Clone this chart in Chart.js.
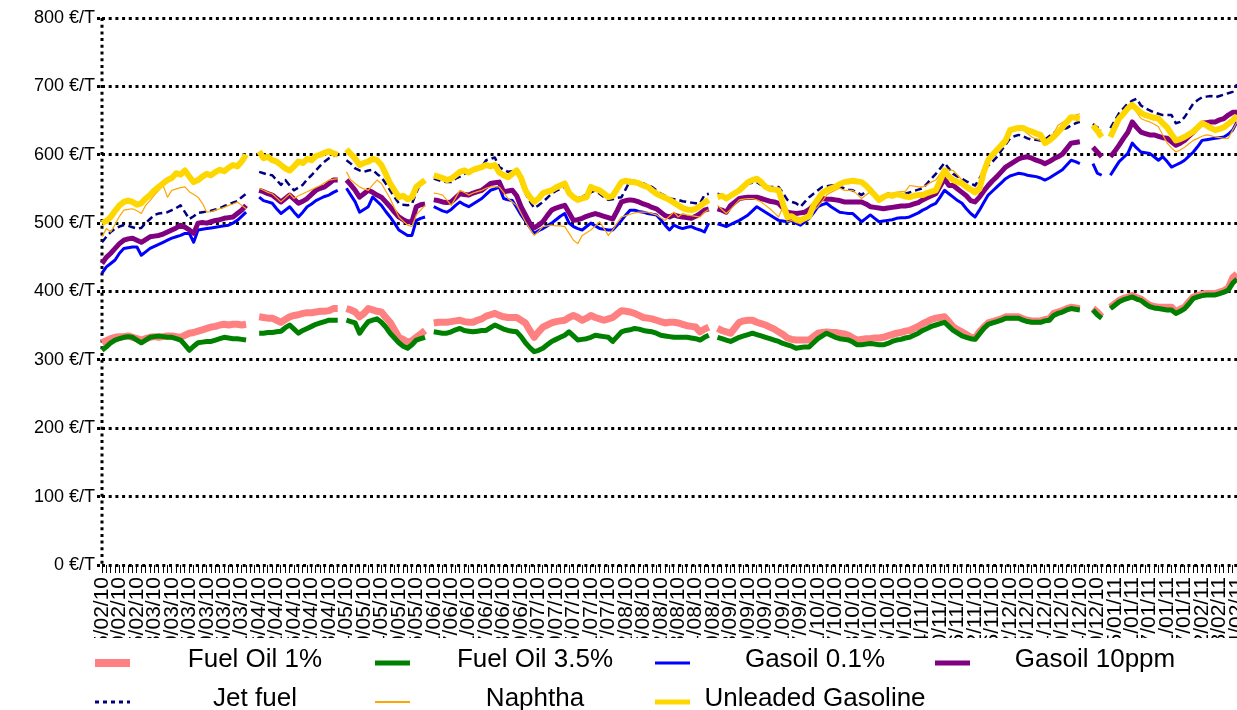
<!DOCTYPE html>
<html>
<head>
<meta charset="utf-8">
<title>Prix produits pétroliers</title>
<script src="https://cdn.jsdelivr.net/npm/chart.js@4.4.1/dist/chart.umd.min.js"></script>
<style>
  html, body { margin: 0; padding: 0; background: #fff; }
  #wrap { width: 1237px; height: 710px; }
</style>
</head>
<body>
<div id="wrap"><canvas id="prices"></canvas></div>
<script>
// business days, 15/02/2010 -> 14/02/2011 (bank holidays are kept as empty points)
const dates = [];
const day = new Date(2010, 1, 15);
while (dates.length < 261) {
    const wd = day.getDay();
    if (wd !== 0 && wd !== 6) {
        const dd = String(day.getDate()).padStart(2, '0');
        const mm = String(day.getMonth() + 1).padStart(2, '0');
        const yy = String(day.getFullYear()).slice(2);
        dates.push(`${dd}/${mm}/${yy}`);
    }
    day.setDate(day.getDate() + 1);
}

const yTicks = [0, 100, 200, 300, 400, 500, 600, 700, 800];

const seriesNames = ['Fuel Oil 1%', 'Fuel Oil 3.5%', 'Gasoil 0.1%', 'Gasoil 10ppm', 'Jet fuel', 'Naphtha', 'Unleaded Gasoline'];

const fuelOil1 = [
    325, 328, 331, 333, 334, 334, 335, 333, 331, 329,
    331, 333, 334, 333, 334, 335, 335, 334, 333, 336,
    339, 340, 342, 344, 346, 348, 349, 351, 352, 351,
    352, 352, 351, 352, null, null, 363, 362, 361, 361,
    358, 355, 359, 363, 365, 366, 368, 369, 369, 370,
    371, 371, 372, 375, 375, null, 375, 373, 370, 363,
    368, 375, 373, 371, 370, 362, 355, 344, 333, 330,
    326, 328, 333, 338, 343, null, 354, 355, 355, 355,
    356, 357, 358, 356, 355, 355, 358, 360, 364, 366,
    368, 365, 363, 362, 362, 362, 358, 354, 343, 333,
    341, 348, 351, 354, 356, 357, 358, 362, 365, 362,
    358, 361, 365, 362, 360, 358, 360, 362, 367, 372,
    371, 370, 368, 365, 362, 361, 360, 358, 356, 354,
    355, 355, 354, 352, 350, 349, 348, 341, 345, 348,
    null, 346, 343, 341, 339, 347, 355, 357, 358, 358,
    355, 353, 351, 348, 345, 341, 337, 332, 330, 329,
    329, 329, 329, 334, 339, 340, 341, 340, 340, 339,
    338, 336, 332, 329, 330, 331, 331, 332, 332, 333,
    335, 337, 339, 340, 342, 343, 346, 349, 353, 356,
    359, 361, 362, 363, 356, 348, 344, 341, 337, 333,
    332, 341, 348, 354, 356, 358, 360, 363, 363, 363,
    363, 360, 358, 357, 357, 357, 359, 360, 368, 370,
    372, 375, 377, 376, 375, null, null, 375, 370, 363,
    null, 377, 382, 387, 390, 392, 394, 391, 389, 384,
    380, 378, 377, 377, 377, 377, 370, 374, 377, 385,
    392, 394, 396, 397, 397, 397, 399, 401, 405, 420,
    426
];

const fuelOil35 = [
    314, 319, 325, 329, 331, 333, 334, 333, 329, 325,
    329, 333, 334, 335, 334, 333, 333, 331, 329, 322,
    314, 320, 325, 326, 327, 327, 329, 331, 333, 332,
    331, 331, 330, 329, null, null, 339, 339, 340, 340,
    341, 342, 347, 351, 345, 339, 343, 346, 349, 352,
    354, 356, 358, 358, 358, null, 358, 356, 354, 339,
    348, 356, 358, 360, 355, 348, 339, 332, 325, 320,
    317, 322, 329, 331, 333, null, 341, 340, 339, 339,
    341, 344, 346, 343, 342, 341, 342, 343, 343, 347,
    351, 348, 345, 343, 342, 341, 334, 325, 318, 312,
    314, 317, 322, 327, 330, 333, 336, 341, 335, 329,
    330, 331, 333, 336, 335, 334, 333, 327, 334, 341,
    343, 344, 346, 345, 343, 342, 341, 339, 336, 335,
    334, 333, 333, 333, 333, 332, 331, 329, 333, 336,
    null, 333, 331, 329, 327, 330, 333, 335, 337, 339,
    337, 335, 333, 331, 329, 327, 324, 322, 320, 317,
    318, 319, 319, 325, 331, 335, 339, 336, 333, 331,
    330, 329, 326, 322, 322, 323, 324, 323, 322, 322,
    324, 327, 329, 330, 332, 333, 336, 339, 343, 346,
    349, 351, 353, 355, 349, 343, 339, 335, 333, 331,
    330, 338, 346, 352, 354, 356, 358, 361, 361, 361,
    361, 358, 356, 355, 355, 355, 357, 358, 365, 368,
    370, 373, 375, 374, 373, null, null, 373, 366, 361,
    null, 375, 380, 385, 388, 390, 392, 389, 387, 382,
    378, 376, 375, 374, 373, 373, 368, 371, 375, 382,
    390, 392, 394, 395, 395, 395, 397, 399, 402, 412,
    418
];

const gasoil01 = [
    427, 436, 441, 446, 456, 463, 464, 465, 465, 453,
    458, 463, 466, 469, 472, 475, 478, 480, 482, 485,
    485, 472, 490, 491, 492, 493, 494, 495, 496, 497,
    500, 504, 510, 516, null, null, 538, 533, 531, 529,
    521, 514, 519, 524, 516, 509, 516, 524, 528, 533,
    536, 539, 541, 545, 548, null, 551, 541, 531, 516,
    520, 524, 538, 532, 526, 517, 509, 500, 490, 486,
    482, 482, 504, 507, 509, null, 524, 521, 518, 516,
    520, 526, 531, 527, 524, 528, 532, 536, 542, 548,
    550, 553, 536, 534, 533, 523, 512, 503, 494, 485,
    489, 492, 496, 500, 505, 510, 514, 500, 495, 492,
    490, 495, 500, 496, 492, 491, 490, 490, 497, 504,
    512, 519, 519, 517, 516, 514, 513, 512, 505, 497,
    490, 497, 494, 492, 494, 495, 492, 490, 487, 500,
    null, 499, 497, 495, 498, 501, 504, 508, 512, 518,
    524, 520, 516, 512, 508, 504, 503, 502, 504, 500,
    497, 502, 507, 515, 524, 527, 529, 524, 520, 516,
    515, 514, 514, 508, 502, 507, 512, 507, 502, 503,
    504, 505, 507, 508, 508, 509, 512, 515, 519, 522,
    526, 529, 538, 548, 543, 538, 533, 529, 521, 514,
    509, 519, 530, 541, 547, 553, 559, 565, 569, 571,
    573, 572, 570, 569, 568, 566, 563, 566, 570, 574,
    578, 585, 592, 590, 587, null, null, 587, 573, 570,
    null, 570, 580, 590, 596, 602, 617, 610, 604, 603,
    602, 597, 592, 597, 590, 582, 585, 588, 592, 598,
    604, 612, 621, 622, 623, 624, 625, 626, 630, 636,
    648
];

const gasoil10ppm = [
    441, 450, 456, 463, 470, 475, 477, 478, 475, 472,
    476, 480, 481, 482, 484, 487, 490, 493, 497, 494,
    490, 485, 500, 501, 500, 502, 504, 505, 507, 508,
    509, 514, 519, 526, null, null, 548, 546, 543, 541,
    536, 531, 536, 541, 535, 529, 532, 536, 542, 548,
    551, 553, 558, 563, 563, null, 563, 556, 548, 538,
    543, 548, 545, 541, 538, 531, 524, 516, 509, 505,
    502, 502, 524, 527, 528, null, 534, 533, 531, 530,
    531, 537, 543, 542, 541, 544, 546, 548, 553, 558,
    559, 560, 546, 547, 548, 540, 524, 512, 500, 493,
    497, 502, 511, 519, 522, 524, 526, 515, 504, 505,
    507, 510, 512, 514, 512, 510, 508, 506, 518, 531,
    533, 534, 533, 531, 528, 526, 523, 521, 516, 511,
    509, 512, 510, 509, 508, 507, 510, 514, 519, 521,
    null, 521, 519, 516, 526, 531, 536, 537, 538, 538,
    538, 536, 534, 532, 531, 529, 522, 516, 515, 514,
    515, 516, 520, 526, 531, 536, 535, 535, 534, 533,
    531, 531, 531, 531, 531, 528, 524, 523, 522, 521,
    522, 523, 524, 525, 525, 526, 528, 530, 534, 537,
    540, 543, 554, 565, 555, 555, 550, 545, 540, 533,
    531, 538, 547, 555, 562, 568, 575, 582, 586, 590,
    594, 596, 597, 595, 592, 590, 587, 590, 594, 597,
    601, 609, 617, 618, 619, null, null, 611, 604, 597,
    null, 597, 605, 614, 624, 633, 648, 640, 633, 631,
    629, 629, 627, 625, 624, 619, 614, 617, 621, 627,
    633, 640, 646, 647, 648, 648, 651, 653, 658, 662,
    662
];

const jetFuel = [
    472, 480, 487, 492, 495, 497, 496, 494, 492, 493,
    500, 506, 512, 514, 515, 516, 519, 522, 526, 516,
    506, 510, 515, 516, 517, 518, 520, 522, 525, 527,
    530, 532, 538, 543, null, null, 575, 573, 571, 570,
    563, 556, 563, 555, 548, 552, 556, 564, 570, 577,
    584, 590, 595, 598, 600, null, 592, 587, 580, 577,
    575, 577, 578, 572, 567, 558, 548, 538, 529, 527,
    526, 528, 545, 558, 560, null, 565, 563, 561, 560,
    560, 565, 568, 572, 575, 578, 580, 582, 592, 594,
    596, 582, 578, 575, 576, 577, 560, 544, 532, 522,
    526, 531, 537, 543, 547, 550, 553, 545, 536, 537,
    538, 542, 545, 548, 543, 538, 534, 535, 537, 538,
    550, 563, 561, 559, 558, 555, 553, 548, 543, 540,
    536, 535, 534, 532, 531, 530, 529, 529, 541, 543,
    null, 543, 541, 538, 542, 545, 548, 553, 558, 559,
    560, 556, 553, 553, 553, 553, 544, 534, 531, 529,
    524, 531, 538, 543, 548, 553, 554, 555, 555, 553,
    551, 549, 548, 545, 541, 546, 551, 544, 536, 540,
    543, 543, 543, 543, 543, 545, 547, 549, 551, 558,
    565, 572, 580, 588, 580, 572, 568, 565, 561, 558,
    555, 565, 577, 584, 590, 597, 606, 615, 624, 627,
    629, 627, 624, 622, 622, 621, 622, 627, 632, 635,
    637, 639, 643, 646, 648, null, null, 645, 640, 636,
    null, 639, 650, 661, 668, 675, 679, 682, 672, 668,
    665, 662, 660, 658, 658, 658, 646, 648, 655, 665,
    675, 680, 684, 685, 686, 684, 686, 688, 690, 692,
    703
];

const naphtha = [
    480, 492, 487, 498, 510, 519, 520, 521, 518, 514,
    526, 533, 541, 548, 555, 538, 548, 550, 552, 553,
    546, 542, 538, 529, 516, 517, 519, 521, 523, 526,
    528, 531, 526, 521, null, null, 551, 548, 545, 543,
    537, 531, 537, 543, 536, 540, 543, 546, 549, 552,
    555, 559, 563, 564, 565, null, 575, 563, 558, 553,
    550, 548, 556, 563, 558, 547, 536, 522, 509, 503,
    497, 495, 512, 519, 526, null, 544, 543, 541, 534,
    526, 537, 548, 545, 541, 544, 546, 548, 551, 553,
    553, 553, 545, 536, 531, 526, 514, 502, 492, 482,
    488, 495, 496, 497, 496, 496, 495, 485, 475, 470,
    482, 486, 490, 496, 502, 492, 482, 490, 500, 509,
    511, 513, 515, 516, 516, 516, 514, 512, 508, 504,
    510, 516, 509, 514, 512, 511, 510, 509, 516, 520,
    null, 526, 520, 514, 520, 527, 534, 535, 536, 536,
    534, 531, 526, 521, 515, 509, 524, 502, 504, 501,
    499, 505, 511, 518, 524, 532, 541, 545, 548, 551,
    548, 548, 548, 542, 536, 541, 546, 542, 538, 541,
    543, 544, 545, 546, 546, 555, 554, 553, 553, 556,
    560, 563, 572, 580, 578, 577, 570, 563, 556, 550,
    551, 553, 572, 592, 600, 607, 617, 626, 632, 639,
    638, 636, 631, 626, 623, 621, 619, 625, 631, 643,
    647, 651, 655, 658, 660, null, null, 641, 636, 636,
    null, 631, 641, 650, 658, 665, 670, 662, 653, 650,
    648, 645, 641, 629, 617, 610, 604, 607, 611, 616,
    621, 624, 627, 629, 628, 626, 625, 624, 624, 636,
    648
];

const unleaded = [
    500, 503, 509, 518, 526, 531, 533, 531, 527, 529,
    536, 541, 548, 553, 558, 563, 566, 573, 571, 577,
    568, 560, 563, 568, 572, 570, 575, 578, 576, 581,
    585, 583, 590, 600, null, null, 605, 595, 597, 592,
    590, 585, 580, 577, 583, 590, 588, 594, 592, 598,
    600, 603, 605, 602, 600, null, 608, 601, 594, 585,
    588, 590, 594, 592, 585, 572, 558, 548, 538, 540,
    535, 538, 553, 558, 563, null, 570, 568, 566, 563,
    565, 570, 575, 577, 574, 578, 580, 582, 585, 583,
    585, 574, 570, 567, 572, 577, 566, 548, 538, 531,
    536, 544, 546, 548, 552, 555, 558, 544, 538, 534,
    536, 538, 553, 550, 548, 543, 538, 540, 550, 560,
    562, 560, 560, 558, 555, 553, 548, 543, 540, 537,
    534, 530, 526, 522, 520, 519, 521, 525, 530, 534,
    null, 538, 540, 536, 540, 544, 548, 554, 560, 563,
    565, 560, 553, 550, 549, 548, 528, 509, 510, 506,
    504, 507, 510, 526, 535, 544, 548, 551, 553, 557,
    560, 561, 562, 561, 560, 555, 548, 541, 534, 538,
    541, 540, 542, 541, 539, 538, 540, 541, 541, 544,
    546, 548, 562, 577, 568, 563, 560, 558, 553, 549,
    545, 550, 575, 592, 600, 607, 614, 621, 636, 638,
    639, 639, 636, 634, 631, 629, 617, 621, 626, 633,
    640, 648, 655, 654, 653, null, null, 643, 635, 626,
    null, 626, 640, 653, 660, 668, 673, 667, 661, 658,
    656, 654, 653, 646, 640, 630, 621, 623, 626, 630,
    634, 640, 646, 643, 639, 636, 638, 640, 645, 650,
    657
];

const FONT = '"Liberation Sans", Arial, sans-serif';
const DOTS = [3, 3.7];

// dotted vertical axis line (v4 draws the scale border solid)
const dottedAxis = {
    id: 'dottedAxis',
    beforeDatasetsDraw(chart) {
        const { ctx, chartArea } = chart;
        ctx.save();
        ctx.strokeStyle = '#000';
        ctx.lineWidth = 3;
        ctx.setLineDash(DOTS);
        ctx.beginPath();
        ctx.moveTo(chartArea.left, chartArea.top);
        ctx.lineTo(chartArea.left, chartArea.bottom);
        ctx.stroke();
        ctx.restore();
    }
};

// legend drawn by hand: 4 fixed columns, text centred in each column
const legendBox = {
    id: 'legendBox',
    afterDraw(chart) {
        const ctx = chart.ctx;
        ctx.save();
        // hide the bottom of the rotated date labels, as in the original
        ctx.fillStyle = '#fff';
        ctx.fillRect(0, 638, chart.width, chart.height - 638);
        ctx.font = '26px ' + FONT;
        ctx.textAlign = 'center';
        chart.data.datasets.forEach((ds, i) => {
            const col = i % 4;
            const row = Math.floor(i / 4);
            const x0 = 95 + col * 280;
            const ly = row === 0 ? 663 : 702;
            ctx.beginPath();
            ctx.strokeStyle = ds.borderColor;
            ctx.lineWidth = ds.legendWidth;
            ctx.setLineDash(ds.borderDash ? [4, 4] : []);
            ctx.moveTo(x0, ly);
            ctx.lineTo(x0 + 35, ly);
            ctx.stroke();
            ctx.setLineDash([]);
            ctx.fillStyle = '#000';
            ctx.fillText(ds.label, x0 + 160, row === 0 ? 667 : 706);
        });
        ctx.restore();
    }
};

const ctx = document.getElementById('prices').getContext('2d');
const pricesChart = new Chart(ctx, {
    type: 'line',
    data: {
        labels: dates,
        datasets: [
            { label: seriesNames[0], data: fuelOil1, borderColor: '#FF8080', borderWidth: 7, legendWidth: 8, order: 6 },
            { label: seriesNames[1], data: fuelOil35, borderColor: '#008000', borderWidth: 5, legendWidth: 5, order: 5 },
            { label: seriesNames[2], data: gasoil01, borderColor: '#0000FF', borderWidth: 3, legendWidth: 3, order: 4 },
            { label: seriesNames[3], data: gasoil10ppm, borderColor: '#800080', borderWidth: 5, legendWidth: 5, order: 3 },
            { label: seriesNames[4], data: jetFuel, borderColor: '#000080', borderWidth: 2.5, borderDash: [7, 4], legendWidth: 3, order: 2 },
            { label: seriesNames[5], data: naphtha, borderColor: '#FFA500', borderWidth: 1.2, legendWidth: 2, order: 1 },
            { label: seriesNames[6], data: unleaded, borderColor: '#FFD700', borderWidth: 6, legendWidth: 5, order: 0 }
        ]
    },
    options: {
        responsive: true,
        maintainAspectRatio: false,
        animation: false,
        devicePixelRatio: 1,
        spanGaps: false,
        elements: {
            point: { radius: 0 },
            line: { tension: 0, fill: false, borderJoinStyle: 'round' }
        },
        layout: { padding: { top: 18, right: 0, bottom: 65, left: 0 } },
        plugins: {
            legend: { display: false },
            tooltip: { enabled: false }
        },
        scales: {
            x: {
                grid: { display: true, drawOnChartArea: false, drawTicks: true, tickLength: 8, color: '#000', lineWidth: 1 },
                border: { display: false },
                ticks: {
                    autoSkip: false,
                    maxRotation: 90,
                    minRotation: 90,
                    padding: 4,
                    color: '#000',
                    font: { family: FONT, size: 21 },
                    callback: function (value, index) {
                        return index % 4 === 0 ? this.getLabelForValue(value) : '';
                    }
                },
                afterFit(scale) {
                    scale.height = 80;
                    scale.paddingLeft = 0;
                    scale.paddingRight = 0;
                }
            },
            y: {
                min: yTicks[0],
                max: yTicks[yTicks.length - 1],
                afterBuildTicks(scale) {
                    scale.ticks = yTicks.map(v => ({ value: v }));
                },
                grid: {
                    color: '#000',
                    lineWidth: 3,
                    tickLength: 5,
                    tickWidth: 3,
                    tickBorderDash: DOTS
                },
                border: { display: false, dash: DOTS },
                ticks: {
                    padding: 2,
                    color: '#000',
                    font: { family: FONT, size: 18 },
                    callback: v => v + ' €/T'
                },
                afterFit(scale) {
                    scale.width = 102;
                }
            }
        }
    },
    plugins: [dottedAxis, legendBox]
});
</script>
</body>
</html>
